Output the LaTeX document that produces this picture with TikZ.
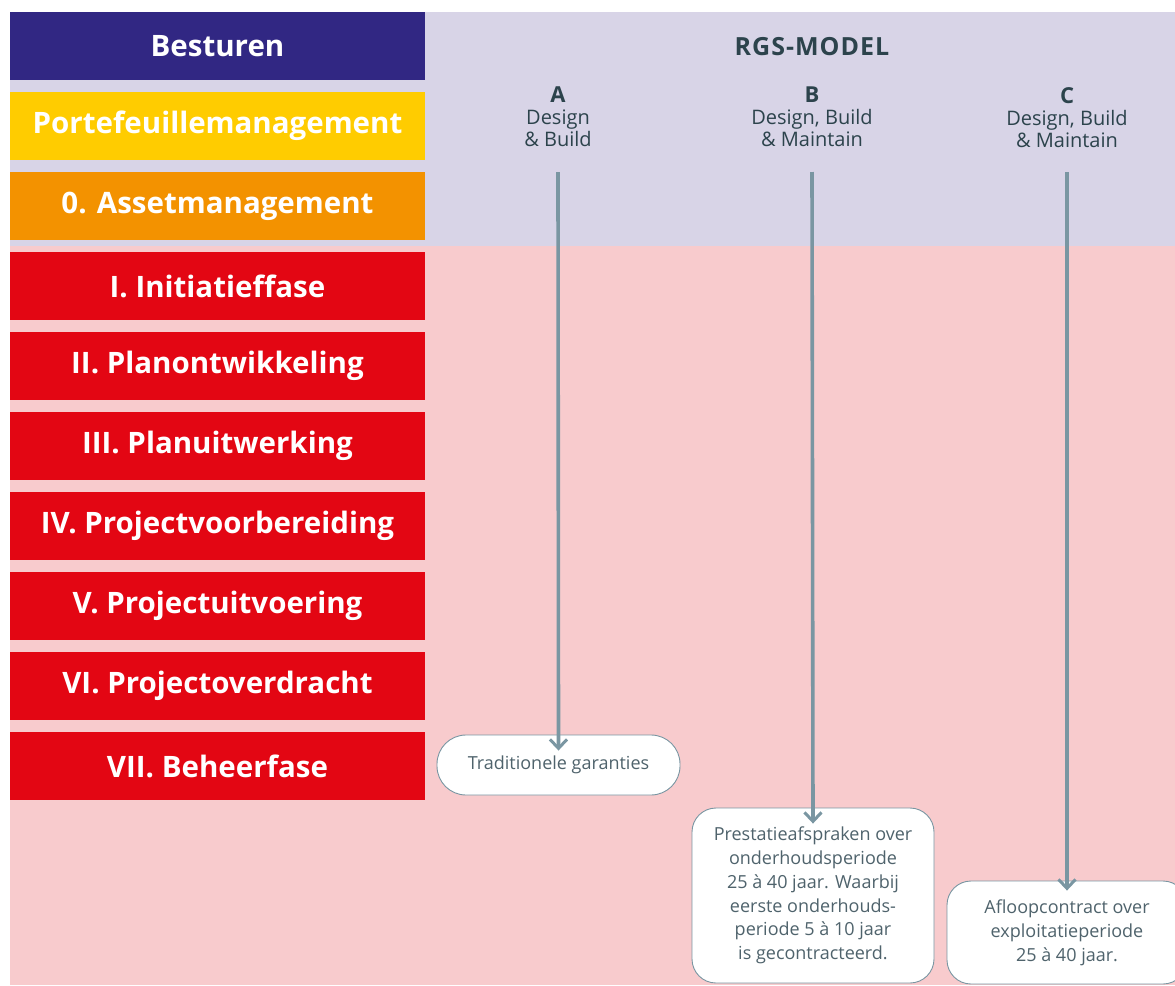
\documentclass[tikz,border=0pt]{standalone}
\usepackage{fontspec}
\setmainfont{Open Sans}
\usetikzlibrary{arrows.meta}
\definecolor{govblue}{HTML}{312783}
\definecolor{portyellow}{HTML}{FFCC00}
\definecolor{assetorange}{HTML}{F39200}
\definecolor{phasered}{HTML}{E30613}
\definecolor{topband}{HTML}{D8D4E7}
\definecolor{lowband}{HTML}{F8CBCD}
\definecolor{headink}{HTML}{2C434C}
\definecolor{flowgrey}{HTML}{7A96A2}
\definecolor{noteink}{HTML}{4F636C}
\tikzset{
  phasebox/.style={minimum width=415pt, minimum height=68pt, inner sep=0pt,
    text=white, font=\fontsize{29.5}{34}\selectfont\bfseries},
  colhead/.style={align=center, text=headink, inner sep=0pt,
    font=\fontsize{20}{22}\selectfont},
  flow/.style={draw=flowgrey, line width=3.6pt,
    -{Straight Barb[length=9pt,width=17pt,line width=3pt]}},
  notebox/.style={draw=flowgrey, line width=0.9pt, fill=white, align=center,
    text=noteink, inner sep=0pt, font=\fontsize{18}{23.8}\selectfont}
}
\begin{document}
\begin{tikzpicture}[x=1pt,y=-1pt]
  \useasboundingbox (0,0) rectangle (1175,985);
  % background bands
  \fill[white] (0,0) rectangle (1175,985);
  \fill[topband] (10,12) rectangle (1175,246);
  \fill[lowband] (10,246) rectangle (1175,985);

  % stack of management layers and phases
  \node[phasebox, fill=govblue]     (besturen) at (217.5,46)  {Besturen};
  \node[phasebox, fill=portyellow]  (porte)    at (217.5,126) {Portefeuillemanagement};
  \node[phasebox, fill=assetorange] (asset)    at (217.5,206) {0. Assetmanagement};
  \node[phasebox, fill=phasered]    (ph1)      at (217.5,286) {I. Initiatieffase};
  \node[phasebox, fill=phasered]    (ph2)      at (217.5,366) {II. Planontwikkeling};
  \node[phasebox, fill=phasered]    (ph3)      at (217.5,446) {III. Planuitwerking};
  \node[phasebox, fill=phasered]    (ph4)      at (217.5,526) {IV. Projectvoorbereiding};
  \node[phasebox, fill=phasered]    (ph5)      at (217.5,606) {V. Projectuitvoering};
  \node[phasebox, fill=phasered]    (ph6)      at (217.5,686) {VI. Projectoverdracht};
  \node[phasebox, fill=phasered]    (ph7)      at (217.5,766) {VII. Beheerfase};

  % model header and contract forms
  \node[text=headink, font=\fontsize{25}{27}\selectfont\bfseries\addfontfeature{LetterSpace=4}]
    (rgs) at (812,47) {RGS-MODEL};
  \node[colhead, anchor=north] (hA) at (558,87)
    {{\fontsize{22}{24}\selectfont\bfseries A}\\Design\\\& Build};
  \node[colhead, anchor=north] (hB) at (812,87)
    {{\fontsize{22}{24}\selectfont\bfseries B}\\Design, Build\\\& Maintain};
  \node[colhead, anchor=north] (hC) at (1067,87)
    {{\fontsize{22}{24}\selectfont\bfseries C}\\Design, Build\\\& Maintain};

  % outcome notes
  \node[notebox, rounded corners=29pt, minimum width=243pt, minimum height=60pt]
    (nA) at (558.5,765) {Traditionele garanties};
  \node[notebox, rounded corners=24pt, minimum width=242pt, minimum height=175pt]
    (nB) at (813,895.5) {Prestatieafspraken over\\onderhoudsperiode\\25 à 40 jaar. Waarbij\\eerste onderhouds-\\periode 5 à 10 jaar\\is gecontracteerd.};
  \node[notebox, rounded corners=24pt, minimum width=240pt, minimum height=103pt]
    (nC) at (1067,932.5) {Afloopcontract over\\exploitatieperiode\\25 à 40 jaar.};

  % contract scope arrows
  \draw[flow] (hA.south |- 0,172) -- ([yshift=-16pt]nA.north);
  \draw[flow] (hB.south |- 0,172) -- ([yshift=-16pt]nB.north);
  \draw[flow] (hC.south |- 0,172) -- ([yshift=-10pt]nC.north);
\end{tikzpicture}
\end{document}
